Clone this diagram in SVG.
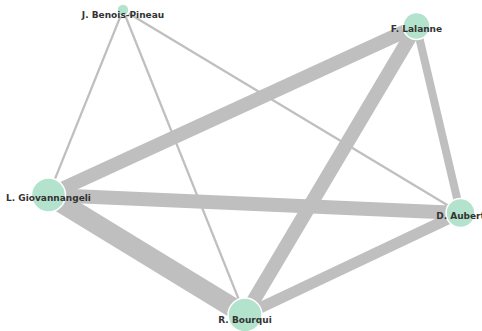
<svg xmlns="http://www.w3.org/2000/svg" width="482" height="331" viewBox="0 0 482 331">
<style>
.e{stroke:#bfbfbf;fill:none;stroke-linecap:butt}
.n circle{fill:#b3e2cd;stroke:#fff;stroke-width:1.5}
.n text{font-family:"DejaVu Sans",sans-serif;font-weight:bold;font-size:9px;fill:#333;text-anchor:middle}
</style>
<rect width="482" height="331" fill="#fff"/>
<g id="edges">
<line class="e" x1="123" y1="10" x2="48.5" y2="195" stroke-width="2.2"/>
<line class="e" x1="123" y1="10" x2="245" y2="315" stroke-width="2.2"/>
<line class="e" x1="123" y1="10" x2="460.5" y2="213" stroke-width="2.2"/>
<line class="e" x1="416.5" y1="26" x2="48.5" y2="195" stroke-width="14"/>
<line class="e" x1="416.5" y1="26" x2="245" y2="315" stroke-width="14"/>
<line class="e" x1="416.5" y1="26" x2="460.5" y2="213" stroke-width="8"/>
<line class="e" x1="48.5" y1="195" x2="460.5" y2="213" stroke-width="14"/>
<line class="e" x1="48.5" y1="195" x2="245" y2="315" stroke-width="20"/>
<line class="e" x1="245" y1="315" x2="460.5" y2="213" stroke-width="11"/>
</g>
<g id="n-benois" class="n"><circle cx="123" cy="10" r="6"/><text x="123" y="18">J. Benois-Pineau</text></g>
<g id="n-lalanne" class="n"><circle cx="416.5" cy="26" r="13.5"/><text x="416.5" y="32">F. Lalanne</text></g>
<g id="n-giovannangeli" class="n"><circle cx="48.5" cy="195" r="17"/><text x="48.5" y="201">L. Giovannangeli</text></g>
<g id="n-aubert" class="n"><circle cx="460.5" cy="213" r="14.5"/><text x="460.5" y="219">D. Aubert</text></g>
<g id="n-bourqui" class="n"><circle cx="245" cy="315" r="17"/><text x="245" y="323">R. Bourqui</text></g>
</svg>
